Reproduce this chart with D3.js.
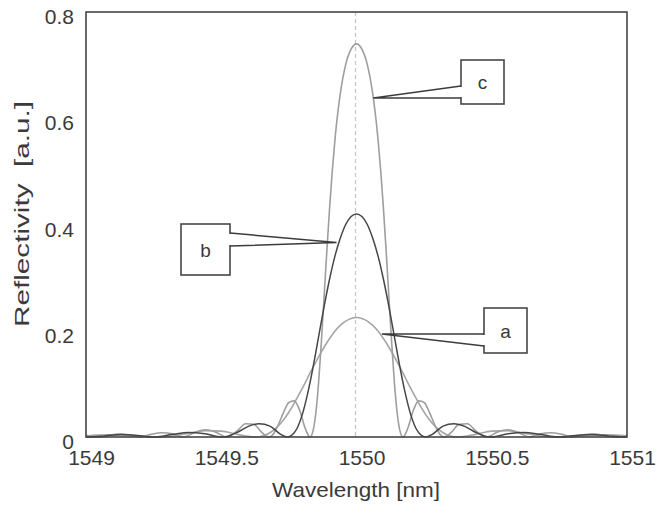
<!DOCTYPE html>
<html>
<head>
<meta charset="utf-8">
<script src="https://cdn.jsdelivr.net/npm/d3@7"></script>
<style>
  html, body { margin: 0; padding: 0; background: #fff; }
  svg { display: block; }
  text { font-family: "Liberation Sans", Arial, sans-serif; fill: #3a3a3a; }
</style>
</head>
<body>
<div id="chart"></div>
<script>
// ---------- data ----------
const xTicks = [1549, 1549.5, 1550, 1550.5, 1551];
const xTickLabels = ["1549", "1549.5", "1550", "1550.5", "1551"];
const yTicks = [0, 0.2, 0.4, 0.6, 0.8];
const yTickLabels = ["0", "0.2", "0.4", "0.6", "0.8"];

// curve a (broad, light grey)
const wlA = [1549.00, 1549.08, 1549.18, 1549.256, 1549.32, 1549.38, 1549.44, 1549.50, 1549.56, 1549.624,
  1549.66, 1549.68, 1549.70, 1549.72, 1549.74, 1549.76, 1549.78, 1549.80, 1549.82, 1549.84, 1549.86,
  1549.88, 1549.90, 1549.92, 1549.94, 1549.96, 1549.98, 1550.00,
  1550.02, 1550.04, 1550.06, 1550.08, 1550.10, 1550.12, 1550.14, 1550.16, 1550.18, 1550.20, 1550.22,
  1550.24, 1550.26, 1550.28, 1550.30, 1550.32, 1550.34, 1550.376, 1550.44, 1550.50, 1550.56, 1550.62,
  1550.68, 1550.744, 1550.82, 1550.92, 1551.00];
const refA = [0.002, 0.004, 0.002, 0.000, 0.002, 0.007, 0.012, 0.011, 0.005, 0.000,
  0.003, 0.008, 0.0156, 0.026, 0.039, 0.055, 0.073, 0.092, 0.112, 0.132, 0.151,
  0.169, 0.185, 0.199, 0.210, 0.218, 0.223, 0.225,
  0.223, 0.218, 0.210, 0.199, 0.185, 0.169, 0.151, 0.132, 0.112, 0.092, 0.073,
  0.055, 0.039, 0.026, 0.0156, 0.008, 0.003, 0.000, 0.005, 0.011, 0.012, 0.007,
  0.002, 0.000, 0.002, 0.004, 0.002];

// curve b (medium, dark grey)
const wlB = [1549.00, 1549.01, 1549.07, 1549.13, 1549.19, 1549.255, 1549.32, 1549.38, 1549.44, 1549.50,
  1549.52, 1549.56, 1549.60, 1549.64, 1549.68, 1549.72, 1549.745, 1549.76, 1549.78, 1549.80, 1549.82,
  1549.84, 1549.86, 1549.88, 1549.90, 1549.92, 1549.94, 1549.96, 1549.98, 1550.00,
  1550.02, 1550.04, 1550.06, 1550.08, 1550.10, 1550.12, 1550.14, 1550.16, 1550.18, 1550.20, 1550.22,
  1550.24, 1550.255, 1550.28, 1550.32, 1550.36, 1550.40, 1550.44, 1550.48, 1550.50, 1550.56, 1550.62,
  1550.68, 1550.745, 1550.81, 1550.87, 1550.93, 1550.99, 1551.00];
const refB = [0.000, 0.000, 0.002, 0.0045, 0.003, 0.000, 0.005, 0.0085, 0.006, 0.000,
  0.001, 0.009, 0.020, 0.025, 0.0205, 0.005, 0.000, 0.003, 0.016, 0.043, 0.083,
  0.133, 0.189, 0.245, 0.296, 0.340, 0.374, 0.400, 0.415, 0.420,
  0.415, 0.400, 0.374, 0.340, 0.296, 0.245, 0.189, 0.133, 0.083, 0.043, 0.016,
  0.003, 0.000, 0.005, 0.0205, 0.025, 0.020, 0.009, 0.001, 0.000, 0.006, 0.0085,
  0.005, 0.000, 0.003, 0.0045, 0.002, 0.000, 0.000];

// curve c (narrow, strong, light grey)
const wlC = [1549.00, 1549.044, 1549.08, 1549.12, 1549.16, 1549.20, 1549.24, 1549.28, 1549.32, 1549.36,
  1549.40, 1549.44, 1549.48, 1549.518, 1549.53, 1549.56, 1549.59, 1549.62, 1549.65, 1549.675,
  1549.69, 1549.71, 1549.73, 1549.75, 1549.77, 1549.79, 1549.81, 1549.828, 1549.84, 1549.85,
  1549.86, 1549.87, 1549.88, 1549.89, 1549.90, 1549.91, 1549.92, 1549.93, 1549.94, 1549.96, 1549.98,
  1550.00,
  1550.02, 1550.04, 1550.06, 1550.07, 1550.08, 1550.09, 1550.10, 1550.11, 1550.12, 1550.13, 1550.14,
  1550.15, 1550.16, 1550.172, 1550.19, 1550.21, 1550.23, 1550.25, 1550.27, 1550.29, 1550.31, 1550.325,
  1550.35, 1550.38, 1550.41, 1550.44, 1550.47, 1550.482, 1550.52, 1550.56, 1550.60, 1550.64,
  1550.68, 1550.72, 1550.76, 1550.80, 1550.84, 1550.88, 1550.92, 1550.956, 1551.00];
const refC = [0.003, 0.000, 0.003, 0.0056, 0.004, 0.000, 0.005, 0.008, 0.006, 0.000,
  0.008, 0.0136, 0.009, 0.000, 0.001, 0.012, 0.025, 0.024, 0.0085, 0.000,
  0.004, 0.022, 0.046, 0.065, 0.068, 0.050, 0.017, 0.000, 0.013, 0.047,
  0.103, 0.178, 0.262, 0.347, 0.427, 0.498, 0.558, 0.607, 0.646, 0.701, 0.730,
  0.740,
  0.730, 0.701, 0.646, 0.607, 0.558, 0.498, 0.427, 0.347, 0.262, 0.178, 0.103,
  0.047, 0.013, 0.000, 0.017, 0.050, 0.068, 0.065, 0.046, 0.022, 0.004, 0.000,
  0.0085, 0.024, 0.025, 0.012, 0.001, 0.000, 0.009, 0.0136, 0.008, 0.000,
  0.006, 0.008, 0.005, 0.000, 0.004, 0.0056, 0.003, 0.000, 0.003];

// callouts: label, anchor point on the curve (data units)
const calloutLabels = ["c", "b", "a"];
const calloutWl = [1550.062, 1549.926, 1550.094];
const calloutRef = [0.638, 0.366, 0.194];

// ---------- layout ----------
const W = 661, H = 507;
const plot = { left: 86, right: 627, top: 12, bottom: 437 };

const svg = d3.select("#chart").append("svg").attr("width", W).attr("height", H);

const x = d3.scaleLinear().domain([1549, 1551]).range([plot.left, plot.right]);
const y = d3.scaleLinear().domain([0, 0.8]).range([plot.bottom, plot.top]);

// dashed centre line
svg.append("line")
  .attr("x1", x(1550) - 1).attr("x2", x(1550) - 1)
  .attr("y1", plot.top).attr("y2", plot.bottom)
  .attr("stroke", "#c4c4c4").attr("stroke-width", 1.2)
  .attr("stroke-dasharray", "4,3");

const line = d3.line().x(d => x(d[0])).y(d => y(d[1])).curve(d3.curveMonotoneX);

const series = [
  { wl: wlA, r: refA, color: "#a6a6a6", w: 1.6 },
  { wl: wlC, r: refC, color: "#9e9e9e", w: 1.6 },
  { wl: wlB, r: refB, color: "#464646", w: 1.5 }
];
series.forEach(s => {
  svg.append("path")
    .datum(s.wl.map((v, i) => [v, s.r[i]]))
    .attr("d", line)
    .attr("fill", "none")
    .attr("stroke", s.color)
    .attr("stroke-width", s.w)
    .attr("stroke-linejoin", "round");
});

// frame
svg.append("rect")
  .attr("x", plot.left).attr("y", plot.top)
  .attr("width", plot.right - plot.left).attr("height", plot.bottom - plot.top)
  .attr("fill", "none").attr("stroke", "#454545").attr("stroke-width", 1.6);

// axes (labels only)
const xAxis = d3.axisBottom(x).tickValues(xTicks)
  .tickFormat((d, i) => xTickLabels[i]).tickSize(0).tickPadding(13);
const gx = svg.append("g").attr("transform", `translate(0,${plot.bottom})`).call(xAxis);
gx.select(".domain").remove();
gx.selectAll("text").attr("font-size", 21).attr("dx", 5)
  .style("font-family", '"Liberation Sans", Arial, sans-serif').attr("fill", "#3a3a3a");

const yAxis = d3.axisLeft(y).tickValues(yTicks)
  .tickFormat((d, i) => yTickLabels[i]).tickSize(0).tickPadding(12);
const gy = svg.append("g").attr("transform", `translate(${plot.left},0)`).call(yAxis);
gy.select(".domain").remove();
gy.selectAll("text").attr("font-size", 21).attr("dy", "0.55em")
  .style("font-family", '"Liberation Sans", Arial, sans-serif').attr("fill", "#3a3a3a");

// axis titles
svg.append("text")
  .attr("x", 356).attr("y", 497)
  .attr("text-anchor", "middle").attr("font-size", 21)
  .attr("textLength", 168).attr("lengthAdjust", "spacingAndGlyphs")
  .text("Wavelength [nm]");
svg.append("text")
  .attr("transform", "translate(29,214) rotate(-90)")
  .attr("text-anchor", "middle").attr("font-size", 21)
  .attr("xml:space", "preserve")
  .attr("textLength", 226).attr("lengthAdjust", "spacingAndGlyphs")
  .text("Reflectivity  [a.u.]");

// callouts
const boxes = [
  { bx: 461, by: 60, bw: 43, bh: 44, side: "left", t1: 86, t2: 98 },
  { bx: 181, by: 224, bw: 49, bh: 51, side: "right", t1: 233, t2: 246 },
  { bx: 484, by: 308, bw: 43, bh: 45, side: "left", t1: 334, t2: 346 }
];
boxes.forEach((b, i) => {
  const tx = x(calloutWl[i]), ty = y(calloutRef[i]);
  const ex = b.side === "left" ? b.bx : b.bx + b.bw;
  svg.append("rect").attr("x", b.bx).attr("y", b.by).attr("width", b.bw).attr("height", b.bh)
    .attr("fill", "#fff").attr("stroke", "#474747").attr("stroke-width", 1.6);
  svg.append("path")
    .attr("d", `M${ex},${b.t1}L${tx},${ty}L${ex},${b.t2}`)
    .attr("fill", "none").attr("stroke", "#3c3c3c").attr("stroke-width", 1.5);
  svg.append("line").attr("x1", ex).attr("x2", ex).attr("y1", b.t1 + 1).attr("y2", b.t2 - 1)
    .attr("stroke", "#fff").attr("stroke-width", 2);
  svg.append("text").attr("x", b.bx + b.bw / 2).attr("y", b.by + b.bh / 2 + 7)
    .attr("text-anchor", "middle").attr("font-size", 19)
    .text(calloutLabels[i]);
});
</script>
</body>
</html>
